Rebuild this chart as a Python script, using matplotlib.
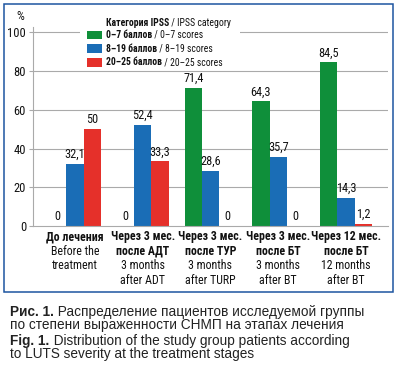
import matplotlib
matplotlib.use("Agg")
import matplotlib.pyplot as plt
from matplotlib.patches import Rectangle
from matplotlib.text import Annotation
from matplotlib import font_manager as fm
import numpy as np

# ---- data ----
groups_ru = [["До лечения"],
             ["Через 3 мес.", "после АДТ"],
             ["Через 3 мес.", "после ТУР"],
             ["Через 3 мес.", "после БТ"],
             ["Через 12 мес.", "после БТ"]]
groups_en = [["Before the", "treatment"],
             ["3 months", "after ADT"],
             ["3 months", "after TURP"],
             ["3 months", "after BT"],
             ["12 months", "after BT"]]
green = [0, 0, 71.4, 64.3, 84.5]
blue = [32.1, 52.4, 28.6, 35.7, 14.3]
red = [50, 33.3, 0, 0, 1.2]
series_bold = ["0–7 баллов", "8–19 баллов", "20–25 баллов"]
series_reg = ["/ 0–7 scores", "/ 8–19 scores", "/ 20–25 scores"]
legend_title_bold = "Категория IPSS"
legend_title_reg = "/ IPSS category"
yticks = [0, 20, 40, 60, 80, 100]
caption = [("Рис. 1.", "Распределение пациентов исследуемой группы"),
           ("", "по степени выраженности СНМП на этапах лечения"),
           ("Fig. 1.", "Distribution of the study group patients according"),
           ("", "to LUTS severity at the treatment stages")]

colors = ["#0f8f3a", "#1a6db6", "#e5302a"]

available = set(f.name for f in fm.fontManager.ttflist)
cond = None
for cand in ["Roboto Condensed", "PT Sans Narrow", "Liberation Sans Narrow", "Fira Sans Condensed",
             "IBM Plex Sans Condensed", "Open Sans Condensed", "Archivo Narrow"]:
    if cand in available:
        cond = cand
        break
NARROW = [cond, "DejaVu Sans"] if cond else ["DejaVu Sans"]
SANS = ["Liberation Sans", "DejaVu Sans"]
W, H = 398, 372
DPI = 100

fig = plt.figure(figsize=(W / DPI, H / DPI), dpi=DPI)

def fx(px):
    return px / W

def fy(py):
    return 1 - py / H

ax_left, ax_right, ax_top, ax_bot = 33, 388, 26.7, 226
ax = fig.add_axes([fx(ax_left), fy(ax_bot), fx(ax_right - ax_left), (ax_bot - ax_top) / H])
ax.set_xlim(-0.62, 4.62)
ymax = 100 * (ax_bot - ax_top) / (ax_bot - 32.3)
ax.set_ylim(0, ymax)

x = np.arange(len(green))
bw = 0.255
gray = "#aaaaaa"
for y in yticks[1:]:
    ax.axhline(y, color=gray, lw=0.8, zorder=1)
for side in ["top", "right"]:
    ax.spines[side].set_visible(False)
ax.spines["left"].set_color(gray)
ax.spines["bottom"].set_color(gray)
ax.spines["left"].set_linewidth(0.8)
ax.spines["bottom"].set_linewidth(0.8)
ax.set_yticks(yticks)
ax.set_yticklabels([str(t) for t in yticks], fontfamily=NARROW, fontsize=9, color="#111")
ax.tick_params(axis="y", length=3, width=0.8, color=gray, pad=2)
ax.set_xticks([])

def fmt(v):
    return str(int(v)) if float(v).is_integer() else f"{v:.1f}".replace(".", ",")

for k, (vals, c) in enumerate(zip([green, blue, red], colors)):
    xs = x + (k - 1) * bw
    ax.bar(xs, vals, width=bw, color=c, zorder=2)
    for xi, v in zip(xs, vals):
        ax.annotate(fmt(v), (xi, v), xytext=(0, 2.2), textcoords="offset points",
                    ha="center", va="bottom", fontfamily=NARROW, fontsize=8.8, color="#111")

# x labels
for i in range(len(x)):
    lines = [(t, "bold") for t in groups_ru[i]] + [(t, "normal") for t in groups_en[i]]
    for j, (t, w) in enumerate(lines):
        off_px = 10.7 + j * 14.6
        ax.annotate(t, (x[i], 0), xytext=(0, -off_px * 0.72), textcoords="offset points",
                    ha="center", va="center", fontfamily=NARROW, fontsize=8.6,
                    fontweight=w, color="#111", annotation_clip=False)

fig.text(fx(20), fy(16), "%", ha="center", va="center", fontfamily=NARROW, fontsize=9, color="#111")

# legend
fig.add_artist(Rectangle((fx(80), fy(70)), fx(160), (70 - 14) / H, transform=fig.transFigure,
                         facecolor="white", edgecolor="none", zorder=3))

def mixed(xp, yp, bold, reg, size, family, color):
    t = fig.text(fx(xp), fy(yp), bold, ha="left", va="center", fontfamily=family,
                 fontsize=size, fontweight="bold", color=color, zorder=4)
    a = Annotation(" " + reg, xy=(1, 0.5), xycoords=t, va="center", ha="left",
                   fontfamily=family, fontsize=size, color=color, zorder=4)
    fig.add_artist(a)
    return t

mixed(106, 22.7, legend_title_bold, legend_title_reg, 7.0, NARROW, "#111")
ys = [35, 48.8, 62.2]
for c, b, r, yp in zip(colors, series_bold, series_reg, ys):
    fig.add_artist(Rectangle((fx(86.7), fy(yp + 4.4)), fx(15), 8.8 / H, transform=fig.transFigure,
                             facecolor=c, edgecolor="none", zorder=4))
    mixed(106, yp, b, r, 6.9, NARROW, "#111")

# border
fig.add_artist(Rectangle((fx(3.5), fy(292)), fx(389), (292 - 3.5) / H, transform=fig.transFigure,
                         facecolor="none", edgecolor="#1d55a0", lw=1.1, zorder=5))

# caption
cys = [311.7, 324.6, 341, 353.6]
for (b, r), yp in zip(caption, cys):
    if b:
        mixed(10.5, yp, b, r, 9.8, SANS, "#222")
    else:
        fig.text(fx(10.5), fy(yp), r, ha="left", va="center", fontfamily=SANS,
                 fontsize=9.8, color="#222")

fig.savefig("out.png", dpi=DPI)
